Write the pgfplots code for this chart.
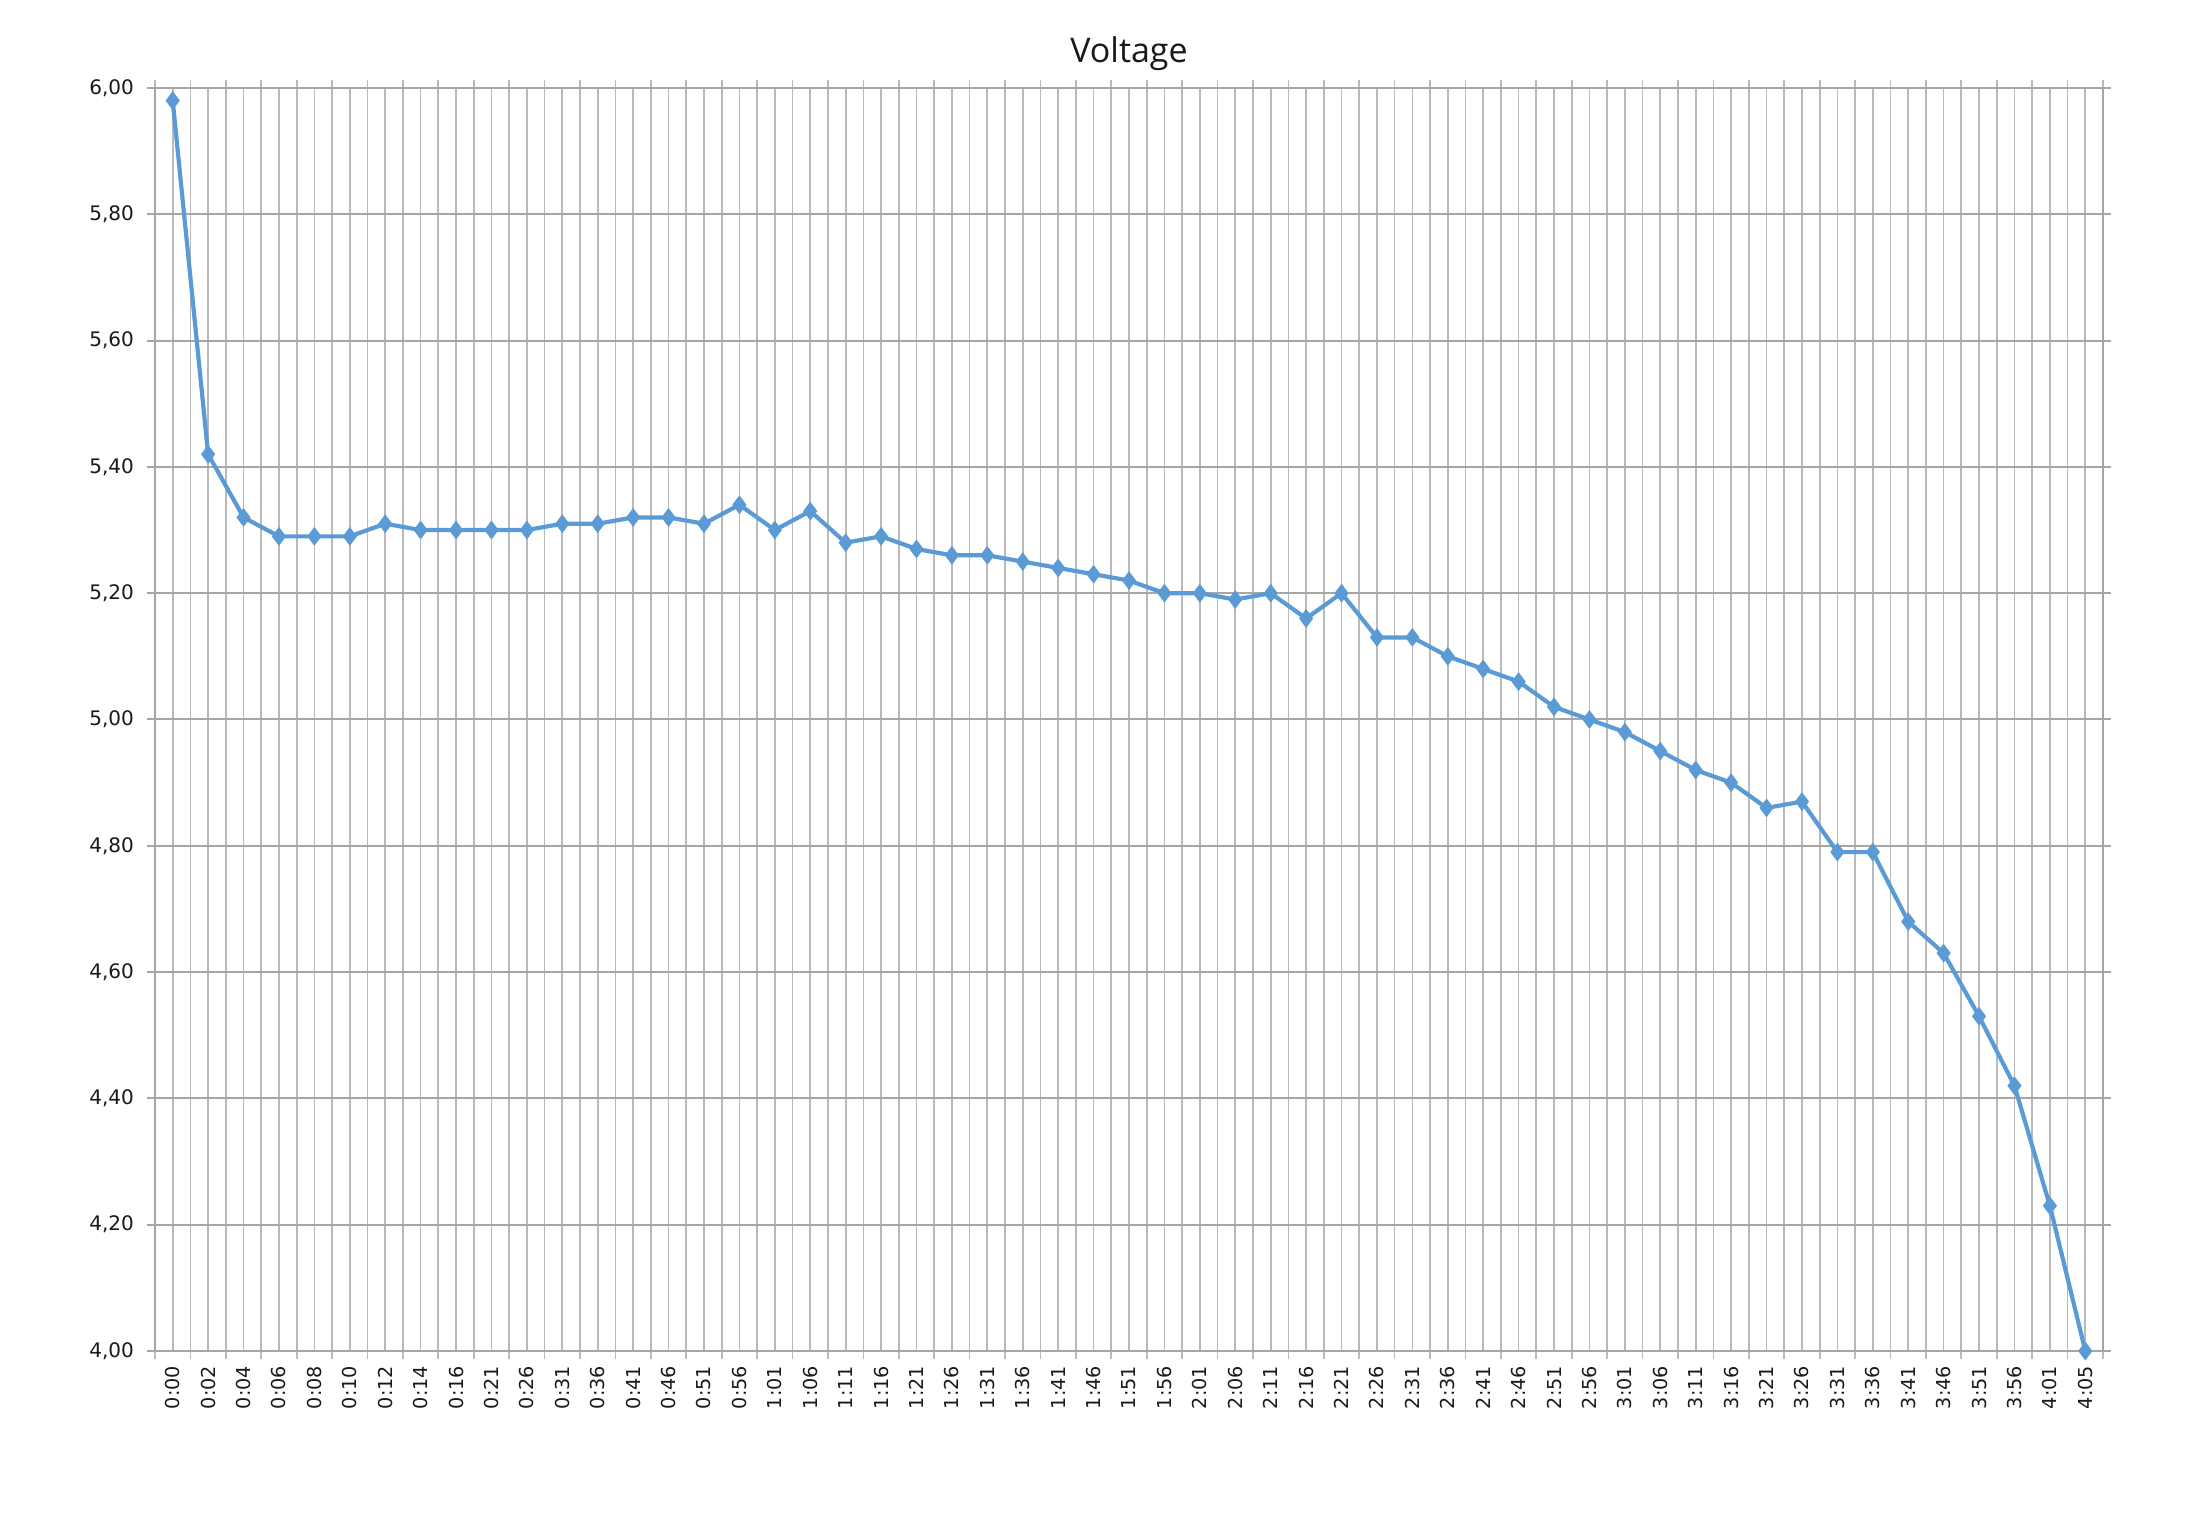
\documentclass[border=0pt]{standalone}
\usepackage{pgfplots}
\pgfplotsset{compat=1.18}
\usepackage{fontspec}
\setmainfont{DejaVu Sans}
\newfontfamily\titlefont{Open Sans}
\definecolor{lineblue}{HTML}{5B9BD5}
\definecolor{hgrid}{HTML}{A6A6A6}
\definecolor{vgrid}{HTML}{BABABA}
\pgfplotstableread{
x y
0 5.98
1 5.42
2 5.32
3 5.29
4 5.29
5 5.29
6 5.31
7 5.30
8 5.30
9 5.30
10 5.30
11 5.31
12 5.31
13 5.32
14 5.32
15 5.31
16 5.34
17 5.30
18 5.33
19 5.28
20 5.29
21 5.27
22 5.26
23 5.26
24 5.25
25 5.24
26 5.23
27 5.22
28 5.20
29 5.20
30 5.19
31 5.20
32 5.16
33 5.20
34 5.13
35 5.13
36 5.10
37 5.08
38 5.06
39 5.02
40 5.00
41 4.98
42 4.95
43 4.92
44 4.90
45 4.86
46 4.87
47 4.79
48 4.79
49 4.68
50 4.63
51 4.53
52 4.42
53 4.23
54 4.00
}\datatable
\begin{document}
\begin{tikzpicture}
\path[use as bounding box] (-77.5pt,-90pt) rectangle (1020pt,675.5pt);
\begin{axis}[
  at={(0,0)}, anchor=south west,
  width=974pt, height=631.5pt, scale only axis,
  xmin=-0.5, xmax=54.5, ymin=4, ymax=6,
  xtick={0,...,54},
  xticklabels={0:00,0:02,0:04,0:06,0:08,0:10,0:12,0:14,0:16,0:21,0:26,0:31,0:36,0:41,0:46,0:51,0:56,1:01,1:06,1:11,1:16,1:21,1:26,1:31,1:36,1:41,1:46,1:51,1:56,2:01,2:06,2:11,2:16,2:21,2:26,2:31,2:36,2:41,2:46,2:51,2:56,3:01,3:06,3:11,3:16,3:21,3:26,3:31,3:36,3:41,3:46,3:51,3:56,4:01,4:05},
  minor xtick={-0.5,0.5,...,54.5},
  ytick={4,4.2,...,6.01},
  tick align=outside,
  major tick length=4pt, minor tick length=4pt,
  major x tick style={draw=none},
  minor x tick style={vgrid, line width=0.85pt},
  major y tick style={hgrid, line width=1pt},
  xmajorgrids, xminorgrids, ymajorgrids,
  major grid style={vgrid, line width=0.85pt},
  minor grid style={vgrid, line width=0.85pt},
  y grid style={hgrid, line width=1pt},
  axis line style={hgrid, line width=1pt},
  /pgf/number format/assume math mode=true,
  yticklabel={\pgfmathprintnumber[fixed, fixed zerofill, precision=2, use comma]{\tick}},
  yticklabel style={font=\fontsize{10}{12}\selectfont, color=black!90, xshift=-3pt},
  xticklabel style={font=\fontsize{9.6}{11}\selectfont, color=black!90, rotate=90, anchor=east},
  title={Voltage},
  title style={font=\titlefont\fontsize{17}{20}\selectfont, color=black!90, at={(0.5,1)}, anchor=center, yshift=11pt},
]
\addplot[lineblue, line width=2.1pt, mark=diamond*, mark size=4.3pt, mark options={fill=lineblue, draw=lineblue, line width=0.5pt}] table[x=x,y=y] {\datatable};
\end{axis}
\end{tikzpicture}
\end{document}
